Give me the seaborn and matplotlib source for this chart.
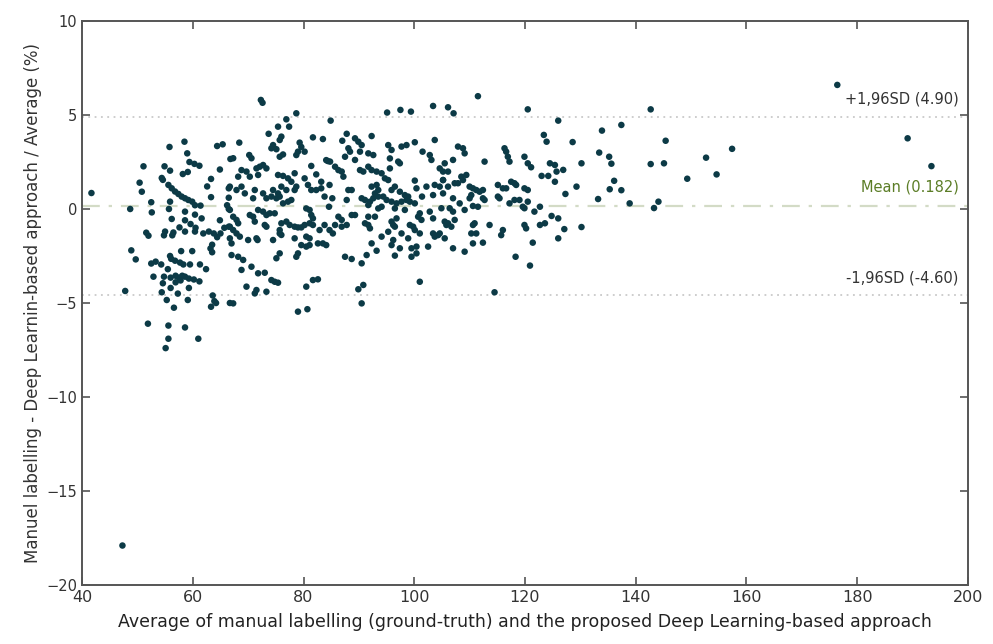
import matplotlib
matplotlib.use("Agg")
import matplotlib.pyplot as plt
import numpy as np
import pandas as pd
import seaborn as sns

# points, (average, difference %)
left_pts = [
    (41.7, 0.85), (48.7, 0.0), (47.8, -4.36), (51.1, 2.27), (50.4, 1.4), (50.8, 0.92), (52.5, 0.36),
    (52.6, -0.18), (51.6, -1.26), (52.0, -1.42), (48.9, -2.2), (49.7, -2.68), (51.9, -6.1), (55.8, 3.3),
    (58.5, 3.58), (59.0, 2.96), (54.9, 2.27), (55.9, 2.04), (54.4, 1.65), (54.6, 1.55),
    (55.6, 1.28), (56.2, 1.1), (56.8, 0.93), (57.4, 0.8), (58.0, 0.66), (58.6, 0.57), (59.2, 0.48),
    (59.9, 0.39), (59.4, 2.5), (60.3, 2.4), (61.2, 2.3), (58.2, 1.86), (59.1, 1.97), (55.9, 0.39),
    (55.7, 0.0), (60.4, 0.2), (61.4, 0.18), (58.6, -0.14), (56.2, -0.53), (58.6, -0.6), (60.4, -0.3),
    (61.6, -0.5), (57.6, -0.98), (59.6, -0.8), (60.5, -1.0), (54.8, -1.4), (55.0, -1.2), (56.3, -1.4),
    (56.5, -1.25), (58.6, -1.2), (60.4, -1.2), (61.9, -1.3), (62.9, -1.2), (63.8, -1.3), (64.4, -1.5),
    (65.0, -1.3), (63.5, -1.9), (63.2, -2.1), (63.5, -2.3), (66.5, -0.94), (57.9, -2.24), (59.9, -2.24),
    (55.9, -2.5), (56.1, -2.65), (56.8, -2.75), (57.7, -2.85), (58.3, -2.95), (59.5, -2.95), (61.3, -2.95),
    (62.4, -3.2), (52.5, -2.9), (53.3, -2.8), (54.3, -2.95), (55.5, -3.2), (52.9, -3.6), (54.8, -3.6),
    (56.0, -3.65), (56.9, -3.55), (57.5, -3.65), (58.1, -3.55), (58.6, -3.6), (59.3, -3.7), (60.2, -3.75),
    (61.2, -3.85), (54.6, -3.95), (56.0, -4.2), (56.9, -3.9), (57.8, -3.8), (59.3, -4.2), (54.4, -4.43),
    (55.3, -4.84), (57.3, -4.5), (59.1, -4.84), (56.6, -5.25), (55.6, -6.2), (58.6, -6.3), (55.6, -6.9),
    (61.0, -6.9), (55.1, -7.4), (64.4, 3.35), (65.4, 3.44), (66.8, 2.66), (63.3, 1.6), (62.6, 1.2),
    (63.3, 0.63), (64.9, 2.1), (66.5, 1.1), (66.5, 0.6), (66.2, 0.2), (66.5, 0.0), (64.9, -0.6),
    (65.7, -1.0), (63.6, -4.6), (63.9, -4.9), (63.3, -5.2), (64.2, -5.0), (66.7, -5.0), (47.3, -17.9),
]

mid_left_pts = [
    (72.3, 5.8), (72.6, 5.65), (78.7, 5.09), (76.9, 4.77), (77.4, 4.38), (75.4, 4.38), (76.0, 3.85),
    (75.7, 3.67), (73.7, 4.0), (68.4, 3.53), (74.5, 3.4), (74.2, 3.23), (75.1, 3.18), (76.3, 2.9),
    (75.7, 2.78), (79.3, 3.53), (79.6, 3.3), (79.0, 3.05), (78.7, 2.87), (80.2, 3.05), (81.7, 3.81),
    (83.5, 3.72), (84.9, 4.7), (67.3, 2.7), (70.2, 2.87), (70.6, 2.7), (84.1, 2.6), (84.4, 2.55),
    (84.8, 2.52), (81.4, 2.29), (82.3, 1.84), (83.2, 1.45), (68.8, 2.07), (69.7, 1.99), (71.5, 2.16),
    (72.1, 2.25), (72.7, 2.34), (73.3, 2.16), (68.2, 1.72), (70.3, 1.72), (71.8, 1.81), (75.4, 1.81),
    (76.3, 1.76), (77.2, 1.63), (77.8, 1.45), (78.4, 1.9), (74.5, 1.01), (75.4, 0.83), (75.7, 0.66),
    (75.1, 0.57), (66.7, 1.19), (67.9, 1.01), (68.8, 1.19), (69.4, 0.83), (71.2, 1.01), (70.9, 0.57),
    (72.7, 0.83), (73.3, 0.57), (74.2, 0.66), (76.0, 1.19), (76.9, 1.01), (78.4, 1.01), (78.7, 1.19),
    (80.2, 1.63), (80.8, 1.28), (81.4, 1.01), (82.3, 1.01), (83.2, 1.1), (83.8, 0.66), (84.7, 1.28),
    (85.2, 0.57), (76.3, 0.3), (77.2, 0.39), (77.8, 0.48), (80.5, 0.03), (81.1, -0.05), (81.4, -0.32),
    (81.7, -0.5), (84.6, 0.12), (66.7, -0.05), (67.3, -0.41), (67.9, -0.58), (68.2, -0.76), (66.7, -0.94),
    (70.3, -0.32), (70.9, -0.41), (71.8, -0.05), (72.7, -0.14), (73.3, -0.32), (73.9, -0.23), (74.8, -0.23),
    (71.2, -0.67), (73.0, -0.85), (73.3, -0.94), (67.3, -1.12), (67.9, -1.3), (68.5, -1.47), (66.7, -1.56),
    (67.0, -1.83), (70.0, -1.65), (71.5, -1.56), (71.7, -1.65), (76.0, -0.76), (75.7, -1.12), (76.9, -0.67),
    (77.5, -0.85), (78.4, -0.94), (79.0, -0.98), (79.6, -0.98), (80.2, -0.85), (81.1, -0.76), (81.7, -0.85),
    (82.9, -1.12), (83.8, -0.85), (84.7, -1.12), (85.3, -1.3), (75.7, -1.3), (76.0, -1.38), (78.4, -1.56),
    (80.5, -1.47), (81.1, -1.56), (74.5, -1.65), (79.6, -1.92), (80.5, -2.0), (81.1, -1.92), (82.6, -1.83),
    (83.5, -1.83), (84.1, -1.92), (75.7, -2.36), (75.1, -2.62), (79.0, -2.36), (78.7, -2.54), (67.0, -2.45),
    (68.2, -2.54), (69.1, -2.71), (68.8, -3.24), (70.6, -3.07), (71.8, -3.42), (73.0, -3.39), (74.2, -3.78),
    (74.8, -3.87), (75.4, -3.92), (81.7, -3.78), (82.6, -3.74), (80.5, -4.13), (69.7, -4.13), (71.5, -4.31),
    (71.2, -4.49), (73.3, -4.4), (67.3, -5.02), (79.0, -5.46), (80.7, -5.33),
]

mid_pts = [
    (95.1, 5.13), (97.5, 5.27), (99.4, 5.18), (103.4, 5.48), (103.7, 3.67), (87.8, 4.0), (87.0, 3.63),
    (89.3, 3.76), (89.9, 3.58), (90.5, 3.4), (92.3, 3.88), (88.1, 3.23), (88.4, 3.05), (90.2, 3.05),
    (91.7, 2.96), (92.6, 2.87), (87.5, 2.78), (89.3, 2.61), (95.3, 3.4), (95.9, 3.14), (97.7, 3.32),
    (98.6, 3.4), (100.1, 3.55), (101.5, 3.05), (102.8, 2.87), (103.1, 2.61), (95.6, 2.69), (97.1, 2.52),
    (97.4, 2.43), (95.6, 2.16), (85.7, 2.25), (86.3, 2.07), (86.9, 1.99), (87.2, 1.72), (90.2, 2.07),
    (90.8, 1.99), (91.7, 2.25), (92.3, 2.07), (93.2, 1.99), (94.1, 1.9), (94.7, 1.63), (95.3, 1.54),
    (100.1, 1.51), (100.4, 1.1), (102.2, 1.19), (103.7, 1.28), (105.2, 1.54), (101.4, 0.66), (103.4, 0.74),
    (88.1, 1.01), (88.7, 1.01), (87.8, 0.48), (92.3, 1.19), (93.2, 1.28), (93.5, 1.01), (92.9, 0.83),
    (95.9, 1.01), (96.5, 1.19), (97.4, 0.92), (98.3, 0.74), (98.9, 0.66), (90.5, 0.57), (91.1, 0.48),
    (92.0, 0.39), (92.6, 0.57), (93.5, 0.66), (94.4, 0.66), (95.0, 0.48), (95.9, 0.39), (96.8, 0.3),
    (97.7, 0.39), (98.6, 0.48), (99.2, 0.39), (91.7, 0.21), (94.1, 0.12), (93.5, 0.03), (96.5, 0.03),
    (98.3, -0.05), (100.1, 0.3), (101.0, -0.23), (102.8, -0.14), (86.3, -0.41), (86.9, -0.58),
    (88.7, -0.32), (89.3, -0.32), (91.7, -0.41), (92.9, -0.41), (96.8, -0.5), (100.7, -0.41), (101.3, -0.58),
    (103.4, -0.5), (85.7, -0.85), (86.9, -0.94), (87.8, -0.85), (91.1, -0.76), (91.7, -0.85), (92.0, -1.03),
    (95.9, -0.67), (96.2, -0.85), (96.5, -0.94), (99.2, -0.85), (99.8, -0.94), (100.1, -1.12), (103.4, -1.3),
    (104.3, -1.39), (94.1, -1.47), (95.3, -1.21), (96.2, -1.65), (97.7, -1.3), (98.9, -1.56), (101.0, -1.3),
    (92.3, -1.83), (95.9, -1.92), (97.4, -2.09), (99.5, -2.09), (100.4, -2.0), (102.5, -2.0), (103.7, -1.47),
    (93.2, -2.22), (91.4, -2.45), (96.5, -2.48), (99.5, -2.54), (100.4, -2.36), (87.5, -2.54), (88.7, -2.66),
    (90.5, -2.89), (101.0, -3.87), (90.8, -4.04), (89.9, -4.27), (90.5, -5.02),
]

mid_right_pts = [
    (111.5, 6.0), (106.1, 5.41), (107.1, 5.09), (120.5, 5.3), (126.0, 4.7), (123.4, 3.94), (123.9, 3.58),
    (107.9, 3.32), (108.8, 3.23), (109.1, 2.96), (116.3, 3.23), (116.6, 3.05), (116.9, 2.78), (117.2, 2.52),
    (119.9, 2.78), (120.5, 2.43), (121.1, 2.22), (112.7, 2.52), (107.0, 2.61), (105.5, 2.43), (106.1, 1.99),
    (105.2, 1.99), (104.6, 2.16), (124.5, 2.43), (125.4, 2.34), (125.7, 1.99), (123.0, 1.76), (124.2, 1.76),
    (125.4, 1.45), (108.5, 1.72), (108.8, 1.54), (109.4, 1.81), (107.9, 1.37), (107.3, 1.37), (105.2, 1.54),
    (106.1, 1.19), (104.6, 1.19), (110.0, 1.19), (110.6, 1.1), (111.2, 1.01), (111.8, 0.92), (112.4, 1.01),
    (110.3, 0.74), (110.0, 0.57), (115.1, 1.28), (116.0, 1.1), (116.6, 1.1), (117.5, 1.45), (118.1, 1.37),
    (118.4, 1.28), (119.9, 1.1), (120.5, 1.01), (115.1, 0.66), (115.4, 0.57), (117.2, 0.3), (118.1, 0.48),
    (119.0, 0.48), (120.5, 0.39), (119.6, 0.12), (119.9, 0.04), (121.7, -0.14), (122.7, 0.12), (124.8, -0.37),
    (126.0, -0.5), (105.2, 0.83), (107.0, 0.57), (108.2, 0.3), (109.1, -0.05), (110.6, 0.16), (111.5, 0.12),
    (112.4, 0.57), (112.7, 0.48), (104.9, 0.04), (106.4, 0.04), (107.0, -0.14), (105.5, -0.67), (105.8, -0.85),
    (107.3, -0.58), (106.7, -0.94), (106.1, -0.76), (104.6, -1.3), (105.5, -1.56), (110.9, -0.76),
    (110.6, -0.85), (113.6, -0.85), (110.3, -1.3), (111.2, -1.3), (116.0, -1.12), (115.7, -1.39),
    (119.9, -0.85), (120.2, -1.03), (122.7, -0.85), (123.6, -0.76), (107.0, -2.09), (109.1, -2.27),
    (110.6, -1.83), (112.4, -1.79), (121.4, -1.79), (126.0, -1.56), (118.3, -2.54), (120.9, -3.01),
    (114.5, -4.43),
]

right_pts = [
    (142.7, 5.3), (137.4, 4.47), (133.9, 4.17), (145.4, 3.63), (128.6, 3.56), (157.4, 3.2), (133.4, 3.0),
    (135.2, 2.78), (135.6, 2.41), (152.7, 2.73), (126.9, 2.08), (130.2, 2.43), (142.7, 2.39), (145.1, 2.43),
    (149.3, 1.61), (154.6, 1.84), (129.3, 1.19), (127.3, 0.8), (136.1, 1.5), (135.3, 1.05), (137.4, 1.0),
    (133.2, 0.53), (138.9, 0.3), (144.1, 0.39), (143.3, 0.05), (127.1, -1.07), (130.2, -0.96),
    (176.4, 6.6), (189.1, 3.76), (193.4, 2.28),
]

mean_diff = 0.182
upper_loa = 4.90
lower_loa = -4.60

pts = left_pts + mid_left_pts + mid_pts + mid_right_pts + right_pts
df = pd.DataFrame(pts, columns=["avg", "diff"])

sns.set_style("ticks")
plt.rcParams["font.family"] = ["DejaVu Sans"]

fig = plt.figure(figsize=(9.93, 6.44), dpi=100)
ax = fig.add_axes([0.0826, 0.0916, 0.8922, 0.8758])

ax.axhline(upper_loa, color="#c9c9c9", lw=1.3, ls=(0, (1, 2.5)), zorder=1)
ax.axhline(lower_loa, color="#c9c9c9", lw=1.3, ls=(0, (1, 2.5)), zorder=1)
ax.axhline(mean_diff, color="#d3dbc6", lw=1.6, ls=(0, (8, 4, 1.5, 4)), zorder=1)

sns.scatterplot(data=df, x="avg", y="diff", ax=ax, color="#0c3a46", s=22,
                edgecolor="none", zorder=3, legend=False)

ax.set_xlim(40, 200)
ax.set_ylim(-20, 10)
ax.set_xticks(np.arange(40, 201, 20))
ax.set_yticks(np.arange(-20, 11, 5))

ax.tick_params(direction="in", length=6, width=1.2, color="#555555",
               top=True, right=True, labelsize=10.5, labelcolor="#333333")
for lab in ax.get_xticklabels():
    lab.set_fontsize(11.5)
for sp in ax.spines.values():
    sp.set_color("#555555")
    sp.set_linewidth(1.4)

ax.set_xlabel("Average of manual labelling (ground-truth) and the proposed Deep Learning-based approach",
              fontsize=12.5, color="#222222", labelpad=6)
ax.set_ylabel("Manuel labelling - Deep Learnin-based approach / Average (%)",
              fontsize=12, color="#333333", labelpad=3)

ax.text(198.3, 5.85, "+1,96SD (4.90)", ha="right", va="center", fontsize=10.5, color="#333333")
ax.text(198.3, 1.17, "Mean (0.182)", ha="right", va="center", fontsize=10.5, color="#5b7d26")
ax.text(198.3, -3.67, "-1,96SD (-4.60)", ha="right", va="center", fontsize=10.5, color="#333333")

fig.savefig("out.png", dpi=100)
